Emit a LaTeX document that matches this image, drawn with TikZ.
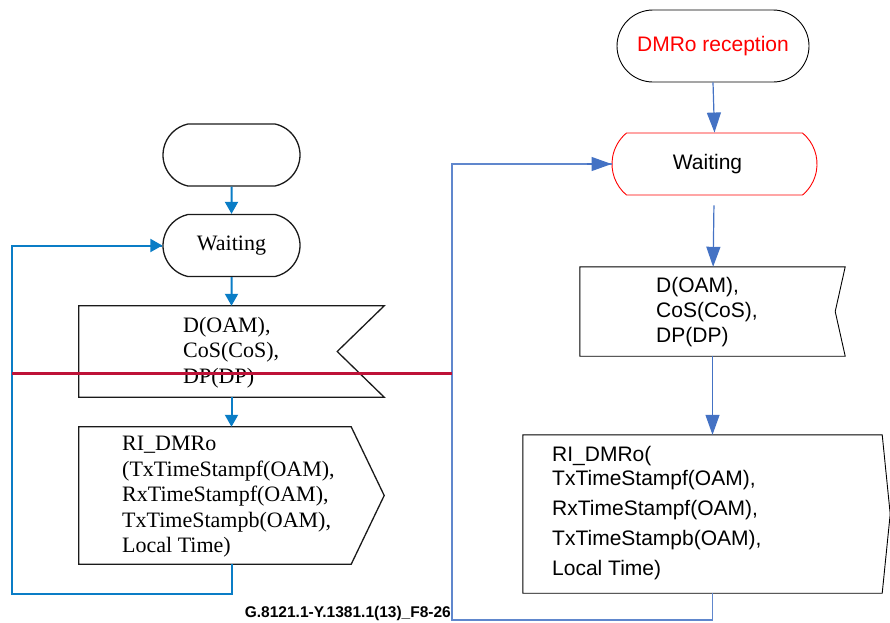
\documentclass[tikz,border=0pt]{standalone}
\usepackage{fontspec}
\setmainfont{Liberation Serif}
\newfontfamily\arialfont{Liberation Sans}
\usetikzlibrary{arrows.meta, positioning, calc, shapes.misc}
\definecolor{lblue}{HTML}{0A7DC6}
\definecolor{rblue}{HTML}{4472C4}
\definecolor{cutred}{HTML}{BE1238}
\definecolor{waitred}{HTML}{FF0000}
\definecolor{darkline}{HTML}{1A1A1A}
\def\lfont{\fontsize{22}{25.5}\selectfont}
\def\rfont{\arialfont\fontsize{21}{25}\selectfont}
\tikzset{
  lterm/.style={rounded rectangle, rounded rectangle arc length=155, draw=darkline,
                line width=1.3pt, minimum width=137pt, minimum height=62pt,
                inner sep=0pt, font=\lfont},
  rterm/.style={rounded rectangle, draw=black, line width=0.9pt, minimum width=192pt,
                minimum height=72pt, inner sep=0pt, font=\rfont},
  rwaitbox/.style={rounded rectangle, rounded rectangle arc length=100, draw=waitred,
                   line width=0.9pt, minimum width=205pt, minimum height=62pt,
                   inner sep=0pt, font=\rfont},
  frame/.style={rectangle, inner sep=0pt},
  lsig/.style={draw=darkline, line width=1.3pt},
  rsig/.style={draw=black, line width=0.9pt},
  ltext/.style={anchor=north west, align=left, inner sep=0pt, font=\lfont},
  rtext/.style={anchor=north west, align=left, inner sep=0pt, font=\rfont},
  lflow/.style={-{Triangle[length=12pt, width=13pt]}, line width=2pt, draw=lblue},
  rflow/.style={-{Triangle[length=20pt, width=14pt]}, line width=1.2pt, draw=rblue},
  lloop/.style={line width=2pt, draw=lblue},
  rloop/.style={line width=1.2pt, draw=rblue!85},
  cut/.style={line width=3pt, draw=cutred},
  figid/.style={font=\arialfont\bfseries\fontsize{15.5}{18}\selectfont, inner sep=0pt},
}
\def\lnotch{47pt}
\def\lpoint{33pt}
\def\rnotch{10pt}
\def\rpoint{8pt}

\begin{document}
\begin{tikzpicture}[x=1pt, y=-1pt]
\useasboundingbox (0,0) rectangle (890,622);

% Left process
\node[lterm] (lstart) at (231.5,155) {};
\node[lterm] (lwait) at (231.5,245.5) {Waiting};
\node[frame, minimum width=305pt, minimum height=91pt] (lrecv) at (231.5,351.5) {};
\node[frame, minimum width=305pt, minimum height=137pt] (lsend) at (231.5,495.5) {};
\draw[lsig] (lrecv.north west) -- (lrecv.north east) -- ([xshift=-\lnotch]lrecv.east)
  -- (lrecv.south east) -- (lrecv.south west) -- cycle;
\draw[lsig] (lsend.north west) -- ([xshift=-\lpoint]lsend.north east) -- (lsend.east)
  -- ([xshift=-\lpoint]lsend.south east) -- (lsend.south west) -- cycle;
\node[ltext] (lrecvtxt) at (183,317) {D(OAM),\\CoS(CoS),\\DP(DP)};
\node[ltext] (lsendtxt) at (122,436) {RI\_DMRo\\(TxTimeStampf(OAM),\\RxTimeStampf(OAM),\\TxTimeStampb(OAM),\\Local Time)};

% Right process
\node[rterm, text=waitred] (rstart) at (713,46) {DMRo reception};
\node[rwaitbox] (rwait) at (714.5,164) {\hspace*{-14pt}Waiting};
\node[frame, minimum width=265pt, minimum height=89pt] (rrecv) at (712.5,311.5) {};
\node[frame, minimum width=367pt, minimum height=158pt] (rsend) at (706.5,514) {};
\draw[rsig] (rrecv.north west) -- (rrecv.north east) -- ([xshift=-\rnotch]rrecv.east)
  -- (rrecv.south east) -- (rrecv.south west) -- cycle;
\draw[rsig] (rsend.north west) -- ([xshift=-\rpoint]rsend.north east) -- (rsend.east)
  -- ([xshift=-\rpoint]rsend.south east) -- (rsend.south west) -- cycle;
\node[rtext] (rrecvtxt) at (656,277) {D(OAM),\\CoS(CoS),\\DP(DP)};
\node[rtext, font=\arialfont\fontsize{21}{30}\selectfont] (rsendtxt) at (552,446)
  {RI\_DMRo(\\[-6pt] TxTimeStampf(OAM),\\ RxTimeStampf(OAM),\\ TxTimeStampb(OAM),\\ Local Time)};

% Figure id
\node[figid, anchor=base east] (figid) at (451,617) {G.8121.1-Y.1381.1(13)\_F8-26};

% Flow, left
\coordinate (lturn) at (12,594);
\draw[lflow] (lstart) -- (lwait);
\draw[lflow] (lwait) -- (lrecv);
\draw[lflow] (lrecv) -- (lsend);
\draw[lloop] (lsend.south) |- (lturn) |- (lwait.west);
\draw[lflow] ([xshift=-20pt]lwait.west) -- (lwait.west);

% Flow, right
\coordinate (rturn) at (452,620);
\draw[rflow] (rstart.south) -- (rwait.north);
\draw[rflow, shorten <=10pt] (rwait) -- (rrecv);
\draw[rflow] (rrecv.south) -- (rrecv.south |- rsend.north);
\draw[rloop] (rrecv.south |- rsend.south) |- (rturn) |- (rwait.west);
\draw[rflow] ([xshift=-25pt]rwait.west) -- (rwait.west);

% Cut line
\coordinate (cutL) at (12,373);
\coordinate (cutR) at (452,373);
\draw[cut] (cutL) -- (cutR);

\end{tikzpicture}
\end{document}
